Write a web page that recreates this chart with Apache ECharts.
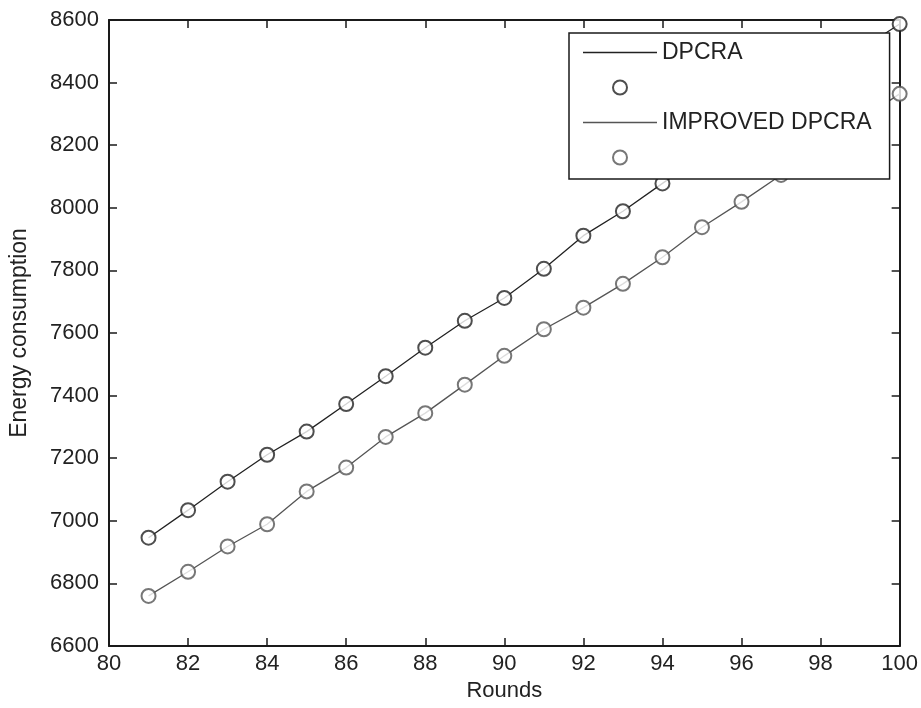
<!DOCTYPE html>
<html>
<head>
<meta charset="utf-8">
<script src="https://cdn.jsdelivr.net/npm/echarts@6/dist/echarts.min.js"></script>
<style>
	html, body { margin: 0; padding: 0; background: #fff; }
	#main { width: 921px; height: 708px; }
</style>
</head>
<body>
<div id="main"></div>
<script>
//轮数
var rounds = [81, 82, 83, 84, 85, 86, 87, 88, 89, 90, 91, 92, 93, 94, 95, 96, 97, 98, 99, 100];
//DPCRA 能耗
var dpcraVal = [6946, 7034, 7125, 7211, 7285, 7373, 7462, 7553, 7639, 7712, 7805, 7911, 7989, 8078, 8165, 8250, 8335, 8420, 8505, 8587];
//IMPROVED DPCRA 能耗
var improvedVal = [6760, 6837, 6918, 6989, 7094, 7170, 7268, 7344, 7435, 7527, 7612, 7681, 7757, 7842, 7938, 8019, 8105, 8190, 8280, 8364];
//坐标轴范围
var xRange = [80, 100, 2];
var yRange = [6600, 8600, 200];

var fontName = '"Liberation Sans", Arial, sans-serif';
var axisColor = '#1a1a1a';
//图例中的细线图标(上下两个极小的点撑开高度)
var lineIcon = 'path://M0,0H0.01V0.01H0Z M0,6.2H74V7.8H0Z M0,13.99H0.01V14H0Z';

var toPairs = function(xs, ys) {
	var out = [];
	for(var i = 0; i < xs.length; i++) {
		out.push([xs[i], ys[i]]);
	}
	return out;
};

//画框四边的轴
var makeAxis = function(range, pos, showLabel) {
	return {
		type: 'value',
		position: pos,
		min: range[0],
		max: range[1],
		interval: range[2],
		axisLine: { show: true, onZero: false, lineStyle: { color: axisColor, width: 2 } },
		axisTick: { show: true, inside: true, length: 8, lineStyle: { color: axisColor, width: 1.5 } },
		axisLabel: {
			show: showLabel,
			color: '#222',
			fontFamily: fontName,
			fontSize: 22,
			margin: pos == 'left' ? 10 : 7,
			formatter: function(v) {
				return String(v);
			}
		},
		splitLine: { show: false }
	};
};

var xBottom = makeAxis(xRange, 'bottom', true);
xBottom.name = 'Rounds';
xBottom.nameLocation = 'middle';
xBottom.nameGap = 34;
xBottom.nameTextStyle = { color: '#222', fontFamily: fontName, fontSize: 22 };

var yLeft = makeAxis(yRange, 'left', true);
yLeft.name = 'Energy consumption';
yLeft.nameLocation = 'middle';
yLeft.nameGap = 78;
yLeft.nameTextStyle = { color: '#222', fontFamily: fontName, fontSize: 23 };

var lineSeries = function(name, data, color) {
	return {
		name: name,
		type: 'line',
		data: data,
		symbol: 'none',
		lineStyle: { color: color, width: 1.3 },
		itemStyle: { color: color },
		z: 2
	};
};
var markSeries = function(name, data, color) {
	return {
		name: name,
		type: 'scatter',
		data: data,
		symbol: 'emptyCircle',
		symbolSize: 14,
		itemStyle: { color: color, borderColor: color, borderWidth: 1.3 },
		z: 3
	};
};

var chart = echarts.init(document.getElementById('main'));
chart.setOption({
	backgroundColor: '#fff',
	animation: false,
	grid: {
		left: 108,
		top: 20,
		right: 19,
		bottom: 62
	},
	legend: {
		orient: 'vertical',
		left: 569,
		top: 33,
		padding: [8, 18, 10, 14],
		itemWidth: 74,
		itemHeight: 14,
		itemGap: 12,
		backgroundColor: '#fff',
		borderColor: axisColor,
		borderWidth: 1.5,
		borderRadius: 0,
		z: 10,
		data: [
			{ name: 'DPCRA', icon: lineIcon },
			'DPCRA o',
			{ name: 'IMPROVED DPCRA', icon: lineIcon },
			'IMPROVED DPCRA o'
		],
		formatter: function(name) {
			if(name == 'DPCRA' || name == 'IMPROVED DPCRA') {
				return name;
			}
			return ' ';
		},
		textStyle: { color: '#222', fontFamily: fontName, fontSize: 23, width: 216 }
	},
	xAxis: [xBottom, makeAxis(xRange, 'top', false)],
	yAxis: [yLeft, makeAxis(yRange, 'right', false)],
	series: [
		lineSeries('DPCRA', toPairs(rounds, dpcraVal), '#222'),
		markSeries('DPCRA o', toPairs(rounds, dpcraVal), '#222'),
		lineSeries('IMPROVED DPCRA', toPairs(rounds, improvedVal), '#555'),
		markSeries('IMPROVED DPCRA o', toPairs(rounds, improvedVal), '#555')
	]
});
</script>
</body>
</html>
